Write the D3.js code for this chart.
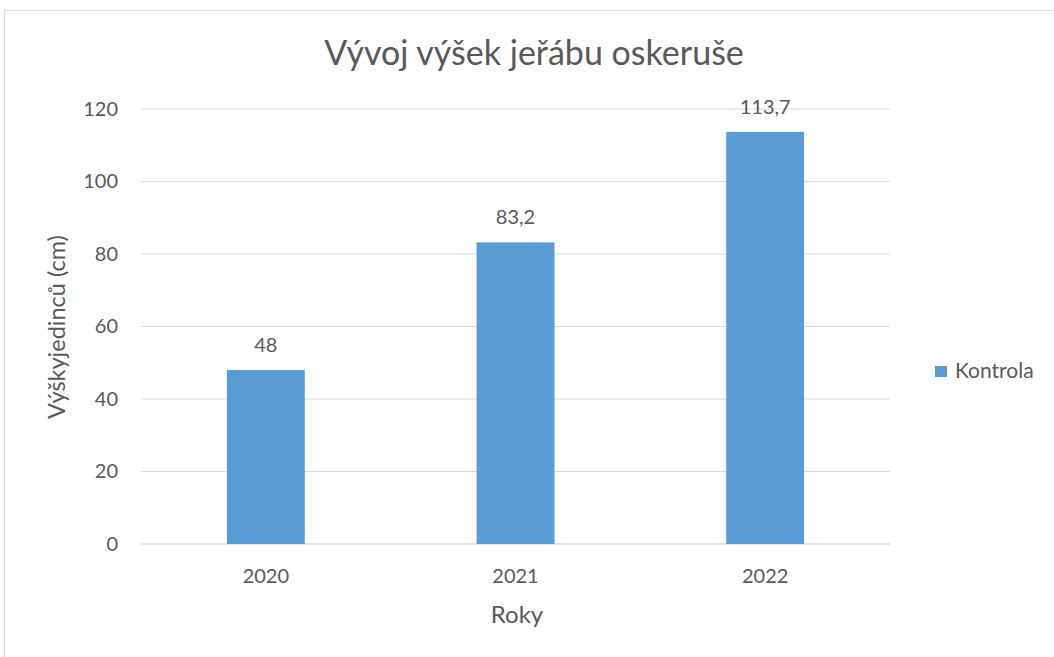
<!DOCTYPE html>
<html><head><meta charset="utf-8">
<script src="https://cdn.jsdelivr.net/npm/d3@7"></script>
<style>body{margin:0;background:#fff}svg{display:block}text{font-family:Lato,"Noto Sans",sans-serif;fill:#595959}</style>
</head><body><svg id="c" width="1054" height="657"></svg>
<script>
const categories = ["2020", "2021", "2022"];
const values = [48, 83.2, 113.7];
const valueLabels = ["48", "83,2", "113,7"];
const yTicks = [0, 20, 40, 60, 80, 100, 120];
const seriesName = "Kontrola";
const title = "Vývoj výšek jeřábu oskeruše";
const xTitle = "Roky";
const yTitle = "Výškyjedinců (cm)";

const svg = d3.select("#c");
svg.append("rect").attr("x", 4.5).attr("y", 10.5).attr("width", 1060).attr("height", 700)
  .attr("fill", "#fff").attr("stroke", "#d9d9d9");

const L = 141, R = 890, T = 109, B = 544;
const x = d3.scaleBand().domain(categories).range([L, R]).paddingInner(0.688).paddingOuter(0.344);
const y = d3.scaleLinear().domain([0, 120]).range([B, T]);

svg.append("g").selectAll("line").data(yTicks).join("line")
  .attr("x1", L).attr("x2", R).attr("y1", d => y(d)).attr("y2", d => y(d))
  .attr("stroke", "#d9d9d9").attr("stroke-width", d => d === 0 ? 1.5 : 1);

const yAxis = svg.append("g").attr("transform", `translate(${L},0)`)
  .call(d3.axisLeft(y).tickValues(yTicks).tickSize(0).tickPadding(23));
yAxis.select(".domain").remove();
yAxis.selectAll("text").attr("font-size", 20).attr("fill", "#595959").attr("font-family", "Lato");

svg.append("g").selectAll("rect").data(values).join("rect")
  .attr("x", (d, i) => x(categories[i])).attr("width", x.bandwidth())
  .attr("y", d => y(d)).attr("height", d => y(0) - y(d)).attr("fill", "#5b9bd5");

svg.append("g").selectAll("text").data(values).join("text")
  .attr("x", (d, i) => x(categories[i]) + x.bandwidth() / 2).attr("y", d => y(d) - 18)
  .attr("text-anchor", "middle").attr("font-size", 20).text((d, i) => valueLabels[i]);

const xAxis = svg.append("g").attr("transform", `translate(0,${B})`)
  .call(d3.axisBottom(x).tickSize(0).tickPadding(25));
xAxis.select(".domain").remove();
xAxis.selectAll("text").attr("font-size", 20).attr("fill", "#595959").attr("font-family", "Lato");

svg.append("text").attr("x", 534).attr("y", 65).attr("text-anchor", "middle")
  .attr("font-size", 34).text(title);
svg.append("text").attr("x", 517).attr("y", 623).attr("text-anchor", "middle")
  .attr("font-size", 24).text(xTitle);
svg.append("text").attr("transform", "translate(65,327) rotate(-90)").attr("text-anchor", "middle")
  .attr("font-size", 23.5).text(yTitle);

svg.append("rect").attr("x", 935).attr("y", 366).attr("width", 12).attr("height", 11).attr("fill", "#5b9bd5");
svg.append("text").attr("x", 955).attr("y", 378).attr("font-size", 21).text(seriesName);
</script></body></html>
